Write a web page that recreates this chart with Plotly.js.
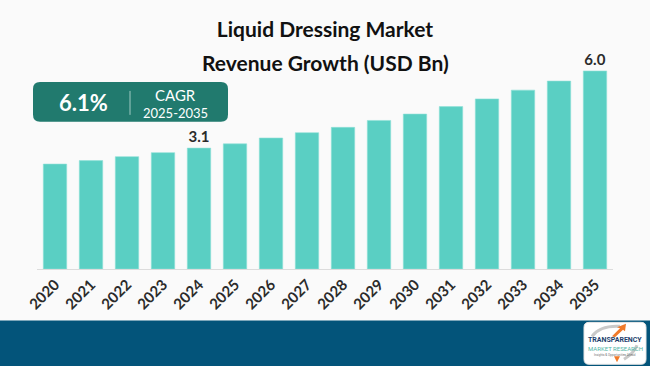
<!DOCTYPE html>
<html>
<head>
<meta charset="utf-8">
<script src="https://cdn.plot.ly/plotly-3.0.1.min.js"></script>
<style>html,body{margin:0;padding:0;background:#fafafa;}#chart{width:650px;height:366px;}</style>
</head>
<body>
<div id="chart"></div>
<script>
// ---- data ----
const years = ['2020','2021','2022','2023','2024','2025','2026','2027','2028','2029','2030','2031','2032','2033','2034','2035'];
const revenue = [2.50, 2.63, 2.78, 2.93, 3.10, 3.26, 3.48, 3.68, 3.88, 4.14, 4.38, 4.66, 4.95, 5.28, 5.62, 6.00];
const labelledYears = ['2024', '2035'];
const cagrValue = '6.1%';
const cagrLabel = 'CAGR';
const cagrPeriod = '2025-2035';
const titleLine1 = 'Liquid Dressing Market';
const titleLine2 = 'Revenue Growth (USD Bn)';

// ---- layout geometry ----
const W = 650, H = 366;
const ML = 37, MR = 37, MT = 60, MB = 96.5;
const PW = W - ML - MR, PH = H - MT - MB;
const yMin = -1.445, yMax = 6.413;
const px = x => (x - ML) / PW;
const py = y => (H - MB - y) / PH;

function roundRect(x0, y0, x1, y1, r) {
  const X = v => px(v), Y = v => py(v);
  return `M${X(x0 + r)},${Y(y0)} L${X(x1 - r)},${Y(y0)} Q${X(x1)},${Y(y0)} ${X(x1)},${Y(y0 + r)} ` +
         `L${X(x1)},${Y(y1 - r)} Q${X(x1)},${Y(y1)} ${X(x1 - r)},${Y(y1)} ` +
         `L${X(x0 + r)},${Y(y1)} Q${X(x0)},${Y(y1)} ${X(x0)},${Y(y1 - r)} ` +
         `L${X(x0)},${Y(y0 + r)} Q${X(x0)},${Y(y0)} ${X(x0 + r)},${Y(y0)} Z`;
}

const barText = years.map((yr, i) => labelledYears.includes(yr) ? revenue[i].toFixed(1) : '');

const trace = {
  type: 'bar',
  x: years,
  y: revenue.map(v => v - yMin),
  base: yMin,
  text: barText,
  textposition: 'outside',
  cliponaxis: false,
  textfont: {family: 'Lato, sans-serif', size: 15, color: '#2b2b2b', weight: 'bold'},
  marker: {color: '#5ACFC3', line: {color: '#8fe0d7', width: 0.6}},
  customdata: revenue,
  hovertemplate: '%{x}: %{customdata}<extra></extra>'
};

const layout = {
  width: W, height: H,
  margin: {l: ML, r: MR, t: MT, b: MB, pad: 0},
  paper_bgcolor: '#fafafa',
  plot_bgcolor: '#fafafa',
  bargap: 0.35,
  showlegend: false,
  title: {
    text: '<b>' + titleLine1 + '</b>',
    x: 0.5, xanchor: 'center', xref: 'paper',
    y: 1 - 30 / H, yanchor: 'middle', yref: 'container',
    font: {family: 'Lato, sans-serif', size: 21, color: '#111111'}
  },
  xaxis: {
    type: 'category',
    tickangle: -45,
    tickfont: {family: 'Lato, sans-serif', size: 15, color: '#2b2b2b', weight: 'bold'},
    showline: true, linecolor: '#dcdcdc', linewidth: 1,
    showgrid: false, ticks: '', ticklen: 0,
    automargin: false
  },
  yaxis: {
    range: [yMin, yMax],
    visible: false, showgrid: false, zeroline: false, fixedrange: true
  },
  shapes: [
    // footer band
    {type: 'rect', xref: 'paper', yref: 'paper', x0: px(-2), x1: px(W + 2), y0: py(321), y1: py(H + 2),
     fillcolor: '#03547A', line: {width: 0}, layer: 'below'},
    // CAGR box
    {type: 'path', xref: 'paper', yref: 'paper', path: roundRect(33, 82, 228, 122, 7),
     fillcolor: '#217A6E', line: {width: 0}},
    // divider
    {type: 'line', xref: 'paper', yref: 'paper', x0: px(130), x1: px(130), y0: py(91), y1: py(115),
     line: {color: '#9fc9c2', width: 1}},
    // logo box
    {type: 'path', xref: 'paper', yref: 'paper', path: roundRect(584, 323, 646, 365, 5),
     fillcolor: '#ffffff', line: {color: '#e6e6e6', width: 1}},
    // logo swoosh
    {type: 'path', xref: 'paper', yref: 'paper',
     path: `M${px(592)},${py(337)} Q${px(600)},${py(326)} ${px(620)},${py(327)}`,
     line: {color: '#c9c9c9', width: 3}},
    {type: 'path', xref: 'paper', yref: 'paper',
     path: `M${px(624)},${py(360)} Q${px(634)},${py(354)} ${px(637)},${py(346)}`,
     line: {color: '#c9c9c9', width: 3}},
    // orange arrows
    {type: 'path', xref: 'paper', yref: 'paper',
     path: `M${px(612)},${py(337)} L${px(620)},${py(329)} L${px(617)},${py(328)} L${px(626)},${py(324.5)} L${px(625)},${py(332)} L${px(623)},${py(330.5)} L${px(615)},${py(338)} Z`,
     fillcolor: '#F07A2A', line: {width: 0}},
    {type: 'path', xref: 'paper', yref: 'paper',
     path: `M${px(614)},${py(357)} L${px(620)},${py(357)} L${px(617)},${py(363)} Z`,
     fillcolor: '#F07A2A', line: {width: 0}}
  ],
  annotations: [
    {text: '<b>' + titleLine2 + '</b>', xref: 'paper', yref: 'paper', x: 0.5, y: py(63),
     xanchor: 'center', yanchor: 'middle', showarrow: false,
     font: {family: 'Lato, sans-serif', size: 21, color: '#111111'}},
    {text: '<b>' + cagrValue + '</b>', xref: 'paper', yref: 'paper', x: px(83), y: py(102.5),
     xanchor: 'center', yanchor: 'middle', showarrow: false,
     font: {family: 'Lato, sans-serif', size: 22, color: '#ffffff'}},
    {text: cagrLabel, xref: 'paper', yref: 'paper', x: px(175), y: py(95),
     xanchor: 'center', yanchor: 'middle', showarrow: false,
     font: {family: 'Lato, sans-serif', size: 15, color: '#ffffff'}},
    {text: cagrPeriod, xref: 'paper', yref: 'paper', x: px(175), y: py(113),
     xanchor: 'center', yanchor: 'middle', showarrow: false,
     font: {family: 'Lato, sans-serif', size: 13, color: '#ffffff'}},
    {text: '<b>TRANSPARENCY</b>', xref: 'paper', yref: 'paper', x: px(615), y: py(341),
     xanchor: 'center', yanchor: 'middle', showarrow: false,
     font: {family: 'Roboto, sans-serif', size: 7, color: '#1d3f6e'}},
    {text: 'MARKET RESEARCH', xref: 'paper', yref: 'paper', x: px(615), y: py(349.5),
     xanchor: 'center', yanchor: 'middle', showarrow: false,
     font: {family: 'Roboto, sans-serif', size: 6, color: '#4fb5a6'}},
    {text: 'Insights & Opportunities Ahead', xref: 'paper', yref: 'paper', x: px(615), y: py(355.5),
     xanchor: 'center', yanchor: 'middle', showarrow: false,
     font: {family: 'Roboto, sans-serif', size: 3, color: '#777777'}}
  ]
};

Plotly.newPlot('chart', [trace], layout, {displayModeBar: false, staticPlot: true});
</script>
</body>
</html>
